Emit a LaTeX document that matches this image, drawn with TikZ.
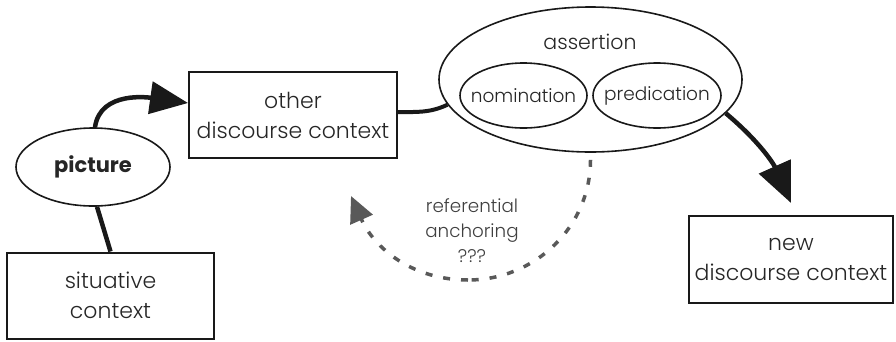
\documentclass[tikz,border=0pt]{standalone}
\usepackage{fontspec}
\setmainfont{Poppins}[UprightFont=* Light, BoldFont=* Bold]
\usetikzlibrary{arrows.meta,shapes.geometric}
\begin{document}
\begin{tikzpicture}[x=1pt,y=1pt,
  txt/.style={font=\fontsize{22}{30}\selectfont, text=black!85, align=center, inner sep=0pt},
  smalltxt/.style={txt, font=\fontsize{18.5}{24}\selectfont},
  boxnode/.style={draw=black!90, line width=2pt, minimum width=#1, minimum height=86pt, inner sep=0pt},
  ell/.style={draw=black!90, line width=1.6pt, ellipse, inner sep=0pt},
  conn/.style={draw=black!90, line width=4.5pt},
  refarrow/.style={draw=black!65, line width=3.5pt, dash pattern=on 7pt off 11pt},
]
\useasboundingbox (0,0) rectangle (896,-341);

% boxes
\node[boxnode=208pt, txt] (other) at (293,-115) {other\\discourse context};
\node[boxnode=207pt, txt] (sit) at (110.5,-295.5) {situative\\context};
\node[boxnode=204pt, minimum height=87pt, txt] (new) at (791,-259.5) {new\\discourse context};

% ellipses
\node[ell, minimum width=154pt, minimum height=78pt] (pic) at (93,-167) {};
\node[txt, font=\fontsize{21}{24}\selectfont\bfseries] (pictxt) at (pic.center) {picture};
\node[ell, minimum width=303pt, minimum height=145pt] (ass) at (590.5,-79.5) {};
\node[txt, font=\fontsize{20.5}{24}\selectfont] (asstxt) at (590,-42) {assertion};
\node[ell, minimum width=127pt, minimum height=65pt] (nom) at (523.5,-95.5) {};
\node[smalltxt] (nomtxt) at (nom.center) {nomination};
\node[ell, minimum width=128pt, minimum height=65pt] (pred) at (657,-95.5) {};
\node[smalltxt] (predtxt) at (pred.center) {predication};

% referential label
\node[txt, text=black!75, font=\fontsize{18.3}{25}\selectfont] (ref) at (472,-231) {referential\\anchoring\\???};

% connectors
\coordinate (picTop) at ([xshift=2pt]pic.north);
\coordinate (otherIn) at ([yshift=12pt]other.west);
\draw[conn, -{Triangle[length=38pt,width=32pt]}] (picTop) to[out=82,in=172] (otherIn);
\draw[conn] ([xshift=4pt]pic.south) -- ([xshift=0pt]sit.north);
\coordinate (otherOut) at ([yshift=3pt]other.east);
\coordinate (assW) at (ass.190);
\draw[conn, line width=4pt] (otherOut) to[out=0,in=205] (assW);
\coordinate (assSE) at (ass.-14);
\coordinate (newTip) at ([yshift=12pt]new.north);
\draw[conn, -{Triangle[length=40pt,width=34pt]}] (assSE) to[out=-40,in=114] (newTip);

% referential anchoring dashed arrow
\coordinate (refStart) at ([yshift=-7pt]ass.south);
\coordinate (refBottom) at (468,-280);
\coordinate (refEnd) at (351,-196);
\draw[refarrow] (refStart) to[out=-90,in=0] (refBottom);
\draw[refarrow, -{Triangle[length=26pt,width=24pt]}] (refBottom) to[out=180,in=-66] (refEnd);
\end{tikzpicture}
\end{document}
